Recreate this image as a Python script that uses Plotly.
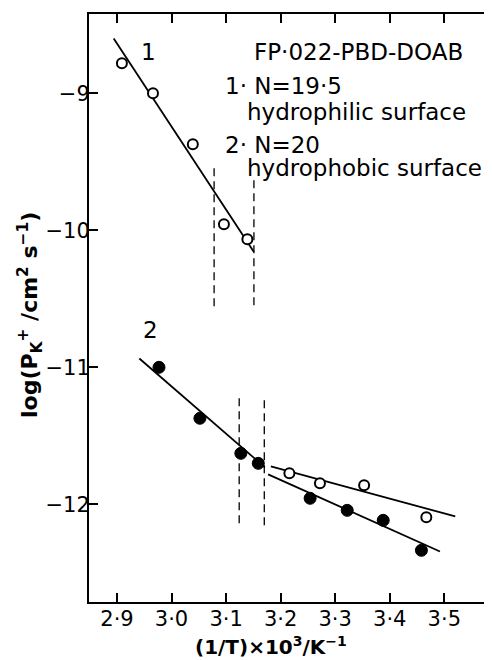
import plotly.graph_objects as go

# Series 1: N=19.5, hydrophilic surface (open circles, upper)
s1_x = [2.909, 2.966, 3.039, 3.096, 3.139]
s1_y = [-8.781, -9.000, -9.372, -9.956, -10.066]

# Series 2: N=20, hydrophobic surface, filled points
s2f_x = [2.977, 3.052, 3.127, 3.159, 3.254, 3.322, 3.388, 3.458]
s2f_y = [-11.000, -11.372, -11.628, -11.701, -11.956, -12.044, -12.117, -12.336]

# Series 2: open points (low temperature)
s2o_x = [3.216, 3.272, 3.353, 3.467]
s2o_y = [-11.774, -11.847, -11.861, -12.095]

# Fitted straight lines (end points)
fit1_x = [2.894, 3.151]
fit1_y = [-8.599, -10.159]
fitA_x = [2.941, 3.171]
fitA_y = [-10.936, -11.730]
fitB_x = [3.182, 3.520]
fitB_y = [-11.723, -12.088]
fitC_x = [3.177, 3.492]
fitC_y = [-11.781, -12.344]

# Dashed transition markers
dash_x = [3.078, 3.151, 3.124, 3.170]
dash_y0 = [-9.547, -9.635, -11.226, -11.241]
dash_y1 = [-10.584, -10.584, -12.175, -12.183]

x_ticks = [2.9, 3.0, 3.1, 3.2, 3.3, 3.4, 3.5]
x_ticklabels = ["2·9", "3·0", "3·1", "3·2", "3·3", "3·4", "3·5"]
y_ticks = [-9, -10, -11, -12]
y_ticklabels = ["−9", "−10", "−11", "−12"]

FONT = "DejaVu Sans"
fig = go.Figure()

for xs, ys in [(fit1_x, fit1_y), (fitA_x, fitA_y), (fitB_x, fitB_y), (fitC_x, fitC_y)]:
    fig.add_trace(go.Scatter(x=xs, y=ys, mode="lines",
                             line=dict(color="black", width=1.8),
                             showlegend=False, hoverinfo="skip"))

for x, y0, y1 in zip(dash_x, dash_y0, dash_y1):
    fig.add_trace(go.Scatter(x=[x, x], y=[y0, y1], mode="lines",
                             line=dict(color="black", width=1.3, dash="8px,5px"),
                             showlegend=False, hoverinfo="skip"))

fig.add_trace(go.Scatter(x=s1_x, y=s1_y, mode="markers",
                         marker=dict(symbol="circle", size=10, color="white",
                                     line=dict(color="black", width=2)),
                         showlegend=False))
fig.add_trace(go.Scatter(x=s2o_x, y=s2o_y, mode="markers",
                         marker=dict(symbol="circle", size=10, color="white",
                                     line=dict(color="black", width=2)),
                         showlegend=False))
fig.add_trace(go.Scatter(x=s2f_x, y=s2f_y, mode="markers",
                         marker=dict(symbol="circle", size=12, color="black",
                                     line=dict(color="black", width=1)),
                         showlegend=False))

# page layout (the page body has an 8px margin)
PAGE_MARGIN = 8
L, R, T, B = 89, 492, 14, 602          # plot area in window pixels
W, H = 492 - PAGE_MARGIN, 660 - PAGE_MARGIN


def fx(px):
    return (px - L) / (R - L)


def fy(py):
    return (B - py) / (B - T)


ann_font = dict(family=FONT, size=23, color="black")
annotations = [
    dict(x=2.957, y=-8.70, text="1", xref="x", yref="y", xanchor="center", yanchor="middle",
         showarrow=False, font=ann_font),
    dict(x=2.962, y=-10.73, text="2", xref="x", yref="y", xanchor="center", yanchor="middle",
         showarrow=False, font=ann_font),
]
texts = [
    ("FP·022-PBD-DOAB", 252, 52),
    ("1· N=19·5", 223, 86),
    ("hydrophilic surface", 245, 112),
    ("2· N=20", 223, 145),
    ("hydrophobic surface", 245, 168),
]
for t, px, py in texts:
    annotations.append(dict(x=fx(px), y=fy(py), text=t, xref="paper", yref="paper",
                            xanchor="left", yanchor="middle", showarrow=False, font=ann_font))

annotations.append(dict(x=fx(271), y=fy(646), xref="paper", yref="paper",
                        text="(1/T)×10<sup>3</sup>/K<sup>−1</sup>", showarrow=False,
                        xanchor="center", yanchor="middle",
                        font=dict(family=FONT, size=20, color="black", weight="bold")))
annotations.append(dict(x=fx(30), y=fy(315), xref="paper", yref="paper",
                        text="log(P<sub>K</sub><sup>+</sup> /cm<sup>2</sup> s<sup>−1</sup>)",
                        textangle=-90, showarrow=False, xanchor="center", yanchor="middle",
                        font=dict(family=FONT, size=22, color="black", weight="bold")))

fig.update_layout(
    width=W, height=H,
    margin=dict(l=L - PAGE_MARGIN, r=0, t=T - PAGE_MARGIN, b=H - (B - PAGE_MARGIN)),
    paper_bgcolor="white", plot_bgcolor="white",
    font=dict(family=FONT, color="black"),
    annotations=annotations,
    xaxis=dict(range=[2.8487, 3.5874], tickvals=x_ticks, ticktext=x_ticklabels,
               ticks="inside", ticklen=9, tickwidth=1.5, tickcolor="black",
               showline=True, linecolor="black", linewidth=2, mirror="ticks",
               showgrid=False, zeroline=False, ticklabelstandoff=-3,
               tickfont=dict(family=FONT, size=21, color="black")),
    yaxis=dict(range=[-12.713, -8.421], tickvals=y_ticks, ticktext=y_ticklabels,
               ticks="inside", ticklen=9, tickwidth=1.5, tickcolor="black",
               showline=True, linecolor="black", linewidth=2,
               showgrid=False, zeroline=False, ticklabelstandoff=-7,
               tickfont=dict(family=FONT, size=21, color="black")),
)

fig.write_html("out.html")
